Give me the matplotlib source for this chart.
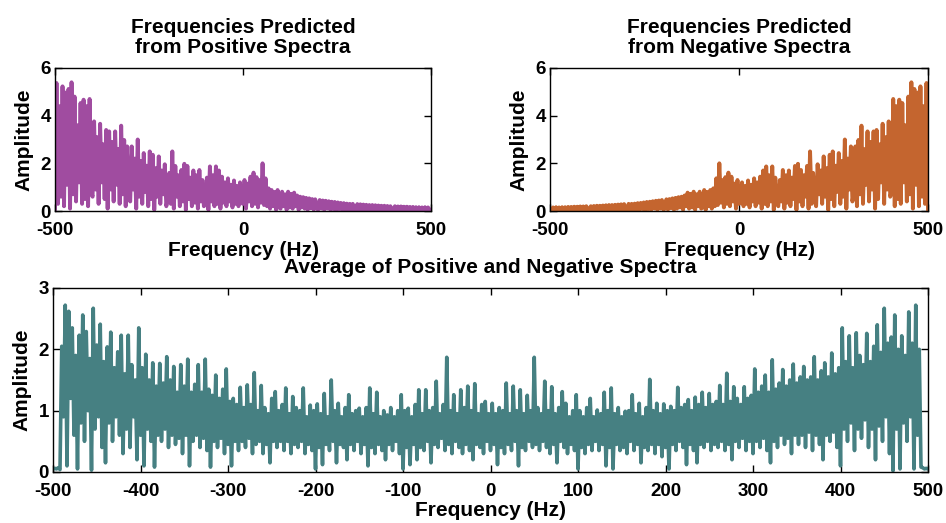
import numpy as np
import matplotlib
matplotlib.use("Agg")
import matplotlib.pyplot as plt

plt.rcParams['font.family'] = ['Liberation Sans', 'DejaVu Sans']
plt.rcParams['font.weight'] = 'bold'
plt.rcParams['axes.unicode_minus'] = False

# frequency grid (Hz) for the two top panels, 4 Hz step
freq = np.arange(-500, 501, 4)
# frequency grid (Hz) for the average panel, 2 Hz step
freq_avg = np.arange(-500, 501, 2)

# Amplitude predicted from positive spectra (25 values per 100 Hz)
pos_amp = [
    0.0, 5.37, 0.3, 4.4, 0.6, 5.23, 0.2, 4.97, 1.1, 5.12, 0.1, 5.4, 0.7, 4.8, 0.4, 3.6, 1.2, 4.53, 0.3, 4.67, 0.5, 4.4, 0.2, 4.7, 0.8,
    0.6, 3.76, 0.9, 3.1, 0.3, 3.66, 1.2, 2.8, 0.5, 3.4, 0.1, 3.34, 0.9, 2.9, 0.4, 3.34, 1.1, 2.6, 0.3, 3.58, 0.7, 2.98, 0.2, 2.71, 0.8,
    0.4, 2.71, 0.9, 2.2, 0.1, 3.0, 0.6, 2.1, 0.3, 2.43, 0.8, 1.9, 0.2, 2.5, 0.5, 2.36, 0.05, 1.8, 0.6, 2.29, 0.3, 1.7, 0.7, 1.96, 0.2,
    0.5, 1.6, 0.3, 2.5, 0.1, 1.89, 0.6, 1.5, 0.2, 1.72, 0.4, 1.98, 0.05, 1.89, 0.5, 1.4, 0.2, 1.7, 0.35, 1.5, 0.1, 1.72, 0.4, 1.3, 0.2,
    0.3, 1.4, 0.05, 1.87, 0.4, 1.5, 0.2, 1.87, 0.3, 1.7, 0.1, 1.44, 0.35, 1.2, 0.2, 1.37, 0.4, 1.1, 0.15, 1.28, 0.3, 1.05, 0.2, 1.2, 0.35,
    0.3, 1.3, 0.1, 1.15, 0.4, 1.44, 0.2, 1.61, 0.3, 1.42, 0.15, 1.3, 0.35, 2.0, 0.25, 1.37, 0.2, 0.95, 0.1, 0.88, 0.2, 0.8, 0.05, 0.88, 0.15,
    0.1, 0.81, 0.2, 0.7, 0.05, 0.81, 0.15, 0.72, 0.1, 0.77, 0.2, 0.65, 0.05, 0.6, 0.15, 0.58, 0.1, 0.55, 0.05, 0.53, 0.12, 0.5, 0.06, 0.49, 0.1,
    0.05, 0.46, 0.1, 0.44, 0.04, 0.43, 0.1, 0.41, 0.05, 0.39, 0.08, 0.38, 0.03, 0.36, 0.08, 0.34, 0.05, 0.33, 0.07, 0.31, 0.03, 0.3, 0.06, 0.3, 0.04,
    0.06, 0.29, 0.03, 0.28, 0.06, 0.27, 0.04, 0.26, 0.07, 0.25, 0.03, 0.25, 0.06, 0.24, 0.04, 0.23, 0.07, 0.22, 0.05, 0.22, 0.04, 0.21, 0.06, 0.2, 0.04,
    0.06, 0.2, 0.04, 0.19, 0.06, 0.19, 0.05, 0.18, 0.04, 0.18, 0.06, 0.17, 0.05, 0.17, 0.04, 0.16, 0.06, 0.16, 0.05, 0.15, 0.04, 0.16, 0.06, 0.15, 0.05,
    0.05,
]

# Negative-spectra prediction is the mirror image of the positive one
neg_amp = pos_amp[::-1]

# Average of positive and negative spectra (50 values per 100 Hz)
avg_amp = [
    # -500 .. -402
    0.05, 0.06, 0.05, 0.07, 0.04, 2.05, 0.9, 2.72, 0.1, 2.62, 1.2, 2.35, 0.6, 1.9, 0.05, 2.23, 0.8, 2.56, 0.5, 2.29,
    1.0, 1.85, 0.03, 2.67, 0.7, 2.07, 0.9, 2.41, 0.4, 1.8, 0.15, 2.04, 0.8, 2.28, 0.5, 1.7, 0.9, 1.96, 0.6, 2.23,
    0.3, 1.6, 0.7, 2.23, 0.4, 1.75, 0.9, 1.5, 0.2, 2.35,
    # -400 .. -302
    0.6, 1.7, 0.1, 1.92, 0.7, 1.5, 0.5, 1.78, 0.08, 1.4, 0.6, 1.77, 0.5, 1.45, 0.7, 1.88, 0.4, 1.5, 0.6, 1.72,
    0.45, 1.3, 0.55, 1.75, 0.3, 1.4, 0.6, 1.84, 0.1, 1.3, 0.5, 1.43, 0.6, 1.75, 0.4, 1.3, 0.55, 1.84, 0.35, 1.35,
    0.08, 1.25, 0.5, 1.58, 0.4, 1.2, 0.55, 1.35, 0.3, 1.68,
    # -300 .. -202
    0.45, 1.15, 0.1, 1.2, 0.5, 1.1, 0.35, 1.38, 0.5, 1.05, 0.4, 1.42, 0.55, 1.1, 0.3, 1.62, 0.45, 1.0, 0.5, 1.41,
    0.3, 1.05, 0.45, 0.95, 0.15, 1.2, 0.5, 1.31, 0.4, 1.0, 0.5, 1.1, 0.35, 1.37, 0.5, 0.95, 0.3, 1.23, 0.45, 1.05,
    0.4, 1.0, 0.5, 1.37, 0.3, 0.9, 0.45, 1.09, 0.35, 1.0,
    # -200 .. -102
    0.05, 1.11, 0.4, 0.95, 0.12, 1.28, 0.45, 0.9, 0.35, 1.5, 0.5, 1.0, 0.15, 1.12, 0.45, 0.9, 0.4, 1.05, 0.2, 1.26,
    0.45, 0.95, 0.35, 1.0, 0.5, 1.04, 0.3, 0.9, 0.45, 1.05, 0.1, 1.37, 0.4, 0.95, 0.3, 1.3, 0.45, 0.9, 0.35, 1.0,
    0.2, 0.93, 0.45, 1.05, 0.35, 0.9, 0.5, 1.0, 0.3, 1.26,
    # -100 .. -2
    0.05, 1.0, 0.4, 1.04, 0.12, 0.9, 0.45, 1.1, 0.2, 1.34, 0.4, 0.95, 0.35, 1.34, 0.5, 1.0, 0.15, 1.05, 0.45, 1.48,
    0.4, 0.95, 0.55, 1.1, 0.35, 1.87, 0.45, 1.0, 0.3, 1.26, 0.5, 0.95, 0.4, 1.34, 0.3, 1.05, 0.45, 1.4, 0.35, 1.0,
    0.2, 1.44, 0.45, 0.95, 0.4, 1.1, 0.3, 1.15, 0.5, 0.95,
    # 0 .. 98
    0.35, 1.12, 0.45, 0.95, 0.12, 1.05, 0.4, 1.0, 0.3, 1.45, 0.45, 0.95, 0.35, 1.4, 0.5, 1.0, 0.1, 1.34, 0.4, 0.95,
    0.35, 1.25, 0.5, 1.0, 0.4, 1.87, 0.45, 1.05, 0.35, 0.95, 0.5, 1.48, 0.4, 1.0, 0.3, 1.39, 0.45, 0.95, 0.15, 1.05,
    0.5, 1.31, 0.4, 1.12, 0.3, 0.9, 0.45, 1.0, 0.35, 1.26,
    # 100 .. 198
    0.05, 1.0, 0.4, 0.9, 0.3, 1.05, 0.45, 1.2, 0.35, 0.9, 0.5, 1.01, 0.35, 0.95, 0.45, 1.3, 0.1, 1.0, 0.4, 1.37,
    0.05, 0.95, 0.45, 1.05, 0.35, 0.9, 0.4, 0.99, 0.3, 1.0, 0.5, 1.26, 0.35, 0.95, 0.45, 1.12, 0.15, 0.9, 0.4, 1.05,
    0.35, 1.51, 0.45, 1.0, 0.3, 1.12, 0.45, 0.95, 0.25, 1.11,
    # 200 .. 298
    0.4, 1.0, 0.05, 1.07, 0.45, 1.0, 0.35, 1.38, 0.5, 1.05, 0.4, 1.1, 0.12, 1.18, 0.45, 1.0, 0.35, 1.22, 0.15, 1.1,
    0.45, 1.3, 0.4, 1.05, 0.5, 1.28, 0.35, 1.1, 0.45, 1.15, 0.4, 1.41, 0.5, 1.1, 0.35, 1.61, 0.45, 1.15, 0.2, 1.39,
    0.5, 1.2, 0.4, 1.1, 0.55, 1.39, 0.35, 1.2, 0.5, 1.25,
    # 300 .. 398
    0.3, 1.68, 0.5, 1.3, 0.4, 1.4, 0.55, 1.58, 0.35, 1.3, 0.15, 1.83, 0.5, 1.35, 0.4, 1.45, 0.6, 1.67, 0.45, 1.4,
    0.55, 1.5, 0.3, 1.76, 0.6, 1.45, 0.45, 1.55, 0.6, 1.72, 0.4, 1.5, 0.65, 1.55, 0.35, 1.88, 0.6, 1.5, 0.45, 1.65,
    0.2, 1.78, 0.6, 1.55, 0.5, 1.94, 0.65, 1.6, 0.4, 1.7,
    # 400 .. 498
    0.1, 2.35, 0.7, 1.8, 0.5, 2.22, 0.8, 1.7, 0.35, 2.27, 0.7, 1.9, 0.55, 1.75, 0.85, 2.26, 0.4, 1.8, 0.7, 2.05,
    0.2, 2.4, 0.75, 1.95, 0.5, 2.67, 0.9, 2.1, 0.3, 2.2, 0.02, 2.56, 0.7, 2.0, 0.05, 2.22, 0.8, 1.9, 0.5, 2.61,
    0.9, 2.1, 0.05, 2.72, 0.6, 2.0, 0.08, 0.07, 0.05, 0.06,
    # 500
    0.05,
]

top_xticks = [-500, 0, 500]
top_yticks = [0, 2, 4, 6]
bot_xticks = list(range(-500, 501, 100))
bot_yticks = [0, 1, 2, 3]

W, H = 946, 523
fig = plt.figure(figsize=(W / 100, H / 100), dpi=100)

def px_axes(x0, x1, ytop, ybot):
    return fig.add_axes([x0 / W, 1 - ybot / H, (x1 - x0) / W, (ybot - ytop) / H])

FS = 15
TFS = 13.5

def style(ax, xt, yt, ylim):
    ax.set_xlim(-500, 500)
    ax.set_ylim(*ylim)
    ax.set_xticks(xt)
    ax.set_yticks(yt)
    ax.tick_params(direction='in', top=True, right=True, length=5, width=1,
                   labelsize=TFS, colors='black')
    ax.tick_params(axis='x', pad=8)
    ax.tick_params(axis='y', pad=3)
    for lab in ax.get_xticklabels() + ax.get_yticklabels():
        lab.set_fontweight('bold')
    for s in ax.spines.values():
        s.set_linewidth(1.0)
        s.set_color('black')
    ax.set_xlabel('Frequency (Hz)', fontsize=FS, fontweight='bold', labelpad=1)
    ax.set_ylabel('Amplitude', fontsize=FS, fontweight='bold', labelpad=5)

ax1 = px_axes(55, 431, 68, 211)
ax1.plot(freq, pos_amp, color='#A04CA0', lw=2.8)
style(ax1, top_xticks, top_yticks, (0, 6))
ax1.set_title('Frequencies Predicted\nfrom Positive Spectra', fontsize=FS,
              fontweight='bold', pad=11, linespacing=1.05)

ax2 = px_axes(550, 928, 68, 211)
ax2.plot(freq, neg_amp, color='#C4652F', lw=2.8)
style(ax2, top_xticks, top_yticks, (0, 6))
ax2.set_title('Frequencies Predicted\nfrom Negative Spectra', fontsize=FS,
              fontweight='bold', pad=11, linespacing=1.05)

ax3 = px_axes(53, 928, 288, 472)
ax3.plot(freq_avg, avg_amp, color='#468082', lw=2.6)
style(ax3, bot_xticks, bot_yticks, (0, 3))
ax3.set_title('Average of Positive and Negative Spectra', fontsize=FS,
              fontweight='bold', pad=11)

fig.savefig('out.png', dpi=100)
